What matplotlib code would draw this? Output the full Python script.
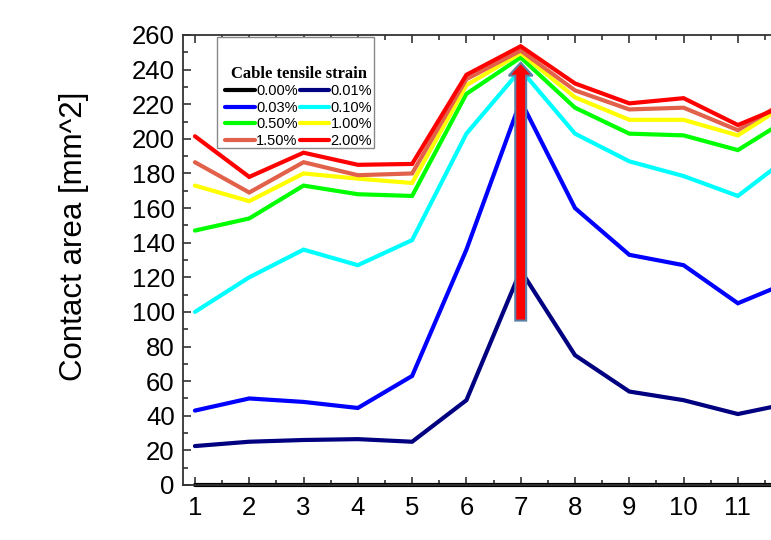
import matplotlib
matplotlib.use("Agg")
import matplotlib.pyplot as plt
import matplotlib.patches as mpatches
from matplotlib.ticker import MultipleLocator
from matplotlib.font_manager import FontProperties

plt.rcParams['font.family'] = ['Liberation Sans', 'DejaVu Sans']

# sample position along the cable
position = [1, 2, 3, 4, 5, 6, 7, 8, 9, 10, 11, 12]

# contact area [mm^2] for each cable tensile strain
strain_labels = ['0.00%', '0.01%', '0.03%', '0.10%', '0.50%', '1.00%', '1.50%', '2.00%']
area_000 = [0, 0, 0, 0, 0, 0, 0, 0, 0, 0, 0, 0]
area_001 = [22.5, 25, 26, 26.5, 25, 49, 124, 75, 54, 49, 41, 47.5]
area_003 = [43, 50, 48, 44.5, 63, 136, 222, 160, 133, 127, 105, 118]
area_010 = [100, 120, 136, 127, 141.5, 203, 240, 203, 187, 178.5, 167, 191]
area_050 = [147, 154, 173, 168, 167, 226, 247, 218, 203, 202, 193.5, 213]
area_100 = [173, 164, 180, 177, 174.5, 231, 249.5, 224, 211, 211, 202, 222]
area_150 = [186.5, 169, 186.5, 179, 180, 234.5, 251, 228, 217, 218, 205, 224]
area_200 = [201.5, 178, 192, 185, 185.5, 237, 253.5, 232, 220.5, 223.5, 208, 221]

all_areas = [area_000, area_001, area_003, area_010, area_050, area_100, area_150, area_200]
colors = ['black', '#000080', '#0000FF', '#00FFFF', '#00FF00', '#FFFF00', '#E2614A', '#FF0000']

# arrow marking the peak at position 7
arrow_x = 7
arrow_from = 95
arrow_to = 244

fig = plt.figure(figsize=(7.71, 5.40), dpi=100)
ax = fig.add_axes([183 / 771, 55 / 540, 1 - 183 / 771, 450 / 540])

lines = []
for vals, c, lab in zip(all_areas, colors, strain_labels):
    ln, = ax.plot(position, vals, color=c, lw=3, label=lab,
                  solid_joinstyle='miter', solid_capstyle='round')
    lines.append(ln)
lines[0].set_clip_on(False)

arrow = mpatches.FancyArrow(arrow_x, arrow_from, 0, arrow_to - arrow_from,
                            width=0.2, head_width=0.44, head_length=7.5,
                            length_includes_head=True, fc='#FF0000',
                            ec='#5B80A8', lw=1.5, zorder=5)
ax.add_patch(arrow)

ax.set_xlim(0.78, 11.61)
ax.set_ylim(0, 260)
ax.xaxis.set_major_locator(MultipleLocator(1))
ax.xaxis.set_minor_locator(MultipleLocator(0.5))
ax.yaxis.set_major_locator(MultipleLocator(20))
ax.yaxis.set_minor_locator(MultipleLocator(10))
ax.tick_params(which='both', direction='in', top=True, right=False,
               color='#333333', width=1.2, labelsize=18.5)
ax.tick_params(which='major', length=6)
ax.tick_params(which='minor', length=3.5)
ax.tick_params(axis='y', pad=6)
ax.tick_params(axis='x', pad=8)

for side in ['left', 'top', 'bottom']:
    ax.spines[side].set_color('#333333')
    ax.spines[side].set_linewidth(1.3)
ax.spines['right'].set_visible(False)

ax.set_ylabel('Contact area [mm^2]', fontsize=22.5)
ax.yaxis.set_label_coords(-0.16, 0.553)

# legend box drawn separately, with room above the title
box = mpatches.Rectangle((0.0578, 0.7489), 0.267, 0.2467, transform=ax.transAxes,
                         fc='white', ec='#888888', lw=1.0, zorder=6)
ax.add_patch(box)

# legend filled row by row: two columns
order = [0, 2, 4, 6, 1, 3, 5, 7]
title_font = FontProperties(family='Liberation Serif', weight='bold', size=12)
leg = ax.legend([lines[i] for i in order], [strain_labels[i] for i in order],
                ncol=2, loc='upper left', bbox_to_anchor=(0.072, 0.932),
                borderaxespad=0, borderpad=0, fontsize=10.5,
                title='Cable tensile strain', title_fontproperties=title_font,
                handlelength=2.0, handletextpad=0.1, columnspacing=0.15,
                labelspacing=0.18, frameon=False)
leg.set_zorder(7)

fig.savefig('out.png', dpi=100)
